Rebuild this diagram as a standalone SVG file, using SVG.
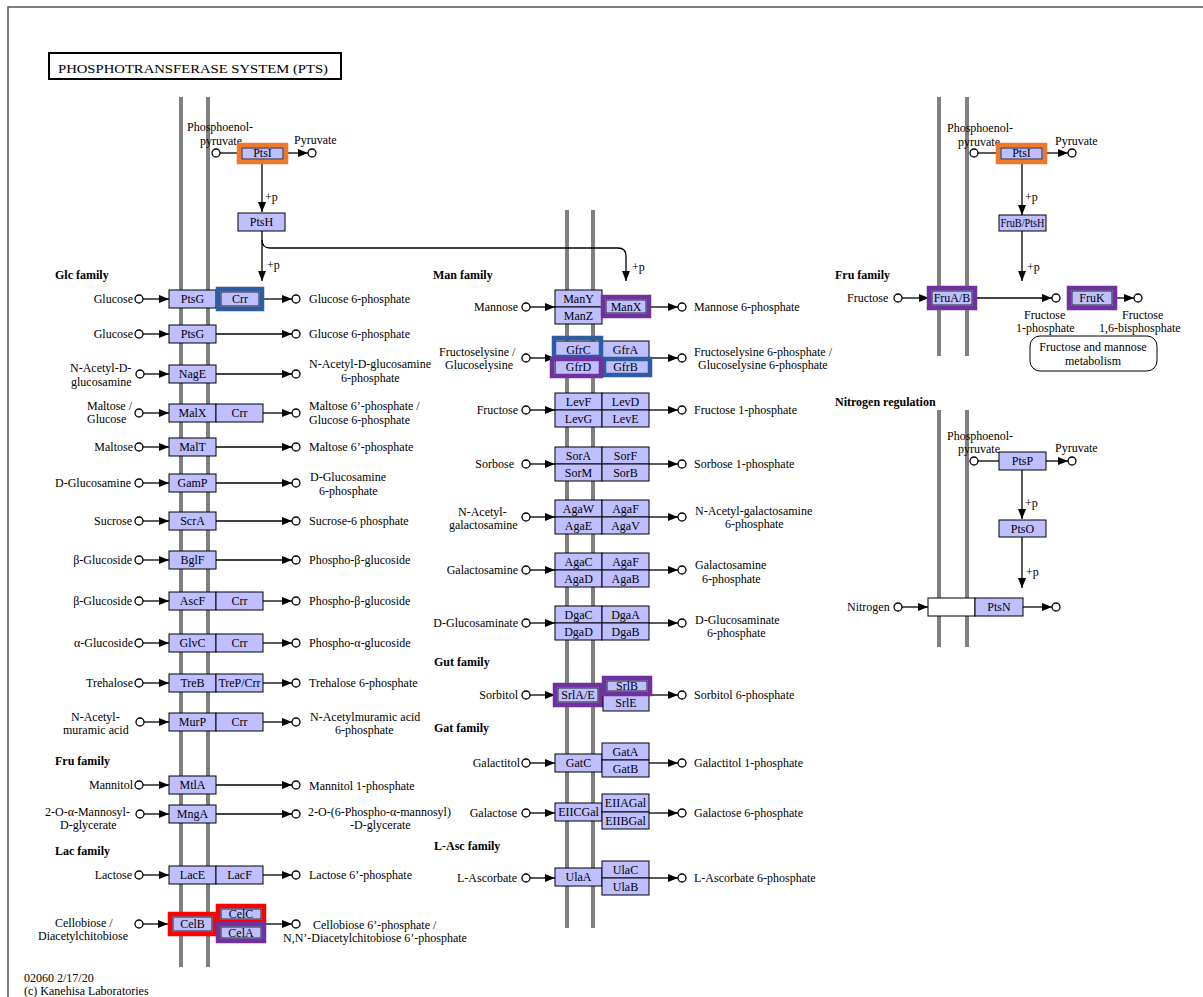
<svg xmlns="http://www.w3.org/2000/svg" width="1203" height="997" viewBox="0 0 1203 997">
<style>
.bg{fill:#fff}
.frame{fill:none;stroke:#555;stroke-width:1.5}
.b{fill:#BFBFFF;stroke:#000;stroke-width:1}
.w{fill:#fff;stroke:#000;stroke-width:1}
.hl{fill:none;stroke-width:4.5}
.hO{stroke:#F07828}
.hB{stroke:#2D5CA0}
.hP{stroke:#7030A0}
.hR{stroke:#FF0000}
.in{fill:none;stroke:#000;stroke-width:0.8}
.t{font-family:"Liberation Serif","Times New Roman",serif;font-size:12px;fill:#000}
.m{text-anchor:middle}
.e{text-anchor:end}
.f{font-weight:bold}
.mem{stroke:#808080;stroke-width:4}
.ln{stroke:#000;stroke-width:1.3;fill:none}
.a{marker-end:url(#ah)}
.c{fill:#fff;stroke:#000;stroke-width:1.3}
.map{fill:#fff;stroke:#000;stroke-width:1}
</style>
<defs>
<marker id="ah" viewBox="0 0 10 8" refX="10" refY="4" markerWidth="10" markerHeight="8" markerUnits="userSpaceOnUse" orient="auto"><path d="M0,0L10,4L0,8z" fill="#000"/></marker>
</defs>
<rect class="bg" x="0" y="0" width="1203" height="997"/>
<rect class="frame" x="8" y="7" width="1300" height="1100"/>
<g id="title">
<rect x="49" y="53" width="292" height="26" fill="#fff" stroke="#000" stroke-width="2"/>
<text class="t" x="58" y="72.5" font-size="17" textLength="270" lengthAdjust="spacingAndGlyphs">PHOSPHOTRANSFERASE SYSTEM (PTS)</text>
</g>
<g id="membranes">
<line class="mem" x1="181" y1="97" x2="181" y2="967"/>
<line class="mem" x1="208" y1="97" x2="208" y2="967"/>
<line class="mem" x1="567" y1="210" x2="567" y2="928"/>
<line class="mem" x1="593" y1="210" x2="593" y2="928"/>
<line class="mem" x1="939" y1="97" x2="939" y2="356"/>
<line class="mem" x1="967" y1="97" x2="967" y2="356"/>
<line class="mem" x1="939" y1="410" x2="939" y2="647"/>
<line class="mem" x1="967" y1="410" x2="967" y2="647"/>
</g>
<g id="labels">
<text class="t f" x="55" y="279">Glc family</text>
<text class="t f" x="55" y="765">Fru family</text>
<text class="t f" x="55" y="855">Lac family</text>
<text class="t f" x="433" y="279">Man family</text>
<text class="t f" x="434" y="666">Gut family</text>
<text class="t f" x="434" y="732">Gat family</text>
<text class="t f" x="434" y="850">L-Asc family</text>
<text class="t f" x="835" y="279">Fru family</text>
<text class="t f" x="835" y="406">Nitrogen regulation</text>
<text class="t"><tspan x="24" y="981.6">02060 2/17/20</tspan><tspan x="24" y="995">(c) Kanehisa Laboratories</tspan></text>
<text class="t" x="265" y="201">+p</text>
<text class="t" x="267" y="269">+p</text>
<text class="t" x="632" y="271">+p</text>
<text class="t" x="1025" y="201">+p</text>
<text class="t" x="1027" y="271">+p</text>
<text class="t" x="1025" y="507">+p</text>
<text class="t" x="1026" y="576">+p</text>
</g>
<g id="compounds">
<text class="t"><tspan x="187" y="131.3">Phosphoenol-</tspan><tspan x="200" y="144.7">pyruvate</tspan></text>
<text class="t" x="294" y="144">Pyruvate</text>
<text class="t e" x="133" y="303">Glucose</text><text class="t" x="309" y="303">Glucose 6-phosphate</text>
<text class="t e" x="133" y="338">Glucose</text><text class="t" x="309" y="338">Glucose 6-phosphate</text>
<text class="t"><tspan x="70" y="372.3">N-Acetyl-D-</tspan><tspan x="71" y="385.7">glucosamine</tspan></text>
<text class="t"><tspan x="309" y="368.3">N-Acetyl-D-glucosamine</tspan><tspan x="341" y="381.7">6-phosphate</tspan></text>
<text class="t"><tspan x="87" y="409.8">Maltose /</tspan><tspan x="87" y="423.2">Glucose</tspan></text>
<text class="t"><tspan x="309" y="410.3">Maltose 6’-phosphate /</tspan><tspan x="309" y="423.7">Glucose 6-phosphate</tspan></text>
<text class="t e" x="133" y="451">Maltose</text><text class="t" x="309" y="451">Maltose 6’-phosphate</text>
<text class="t e" x="131" y="487">D-Glucosamine</text>
<text class="t"><tspan x="310" y="481.3">D-Glucosamine</tspan><tspan x="319" y="494.7">6-phosphate</tspan></text>
<text class="t e" x="132" y="525">Sucrose</text><text class="t" x="309" y="525">Sucrose-6 phosphate</text>
<text class="t e" x="132" y="564">β-Glucoside</text><text class="t" x="309" y="564">Phospho-β-glucoside</text>
<text class="t e" x="132" y="605">β-Glucoside</text><text class="t" x="309" y="605">Phospho-β-glucoside</text>
<text class="t e" x="133" y="647">α-Glucoside</text><text class="t" x="309" y="647">Phospho-α-glucoside</text>
<text class="t e" x="133" y="687">Trehalose</text><text class="t" x="309" y="687">Trehalose 6-phosphate</text>
<text class="t"><tspan x="71" y="720.8">N-Acetyl-</tspan><tspan x="63" y="734.2">muramic acid</tspan></text>
<text class="t"><tspan x="310" y="720.8">N-Acetylmuramic acid</tspan><tspan x="335" y="734.2">6-phosphate</tspan></text>
<text class="t e" x="133" y="789">Mannitol</text><text class="t" x="309" y="790">Mannitol 1-phosphate</text>
<text class="t"><tspan x="45" y="815.8">2-O-α-Mannosyl-</tspan><tspan x="60" y="829.2">D-glycerate</tspan></text>
<text class="t"><tspan x="308" y="815.8">2-O-(6-Phospho-α-mannosyl)</tspan><tspan x="350" y="829.2">-D-glycerate</tspan></text>
<text class="t e" x="132" y="879">Lactose</text><text class="t" x="309" y="879">Lactose 6’-phosphate</text>
<text class="t"><tspan x="55" y="926.8">Cellobiose /</tspan><tspan x="38" y="940.2">Diacetylchitobiose</tspan></text>
<text class="t"><tspan x="313" y="928.8">Cellobiose 6’-phosphate /</tspan><tspan x="283" y="942.2">N,N’-Diacetylchitobiose 6’-phosphate</tspan></text>
<text class="t e" x="518" y="311">Mannose</text><text class="t" x="694" y="311">Mannose 6-phosphate</text>
<text class="t"><tspan x="439" y="355.8">Fructoselysine /</tspan><tspan x="445" y="369.2">Glucoselysine</tspan></text>
<text class="t"><tspan x="694" y="355.8">Fructoselysine 6-phosphate /</tspan><tspan x="698" y="369.2">Glucoselysine 6-phosphate</tspan></text>
<text class="t e" x="518" y="414">Fructose</text><text class="t" x="694" y="414">Fructose 1-phosphate</text>
<text class="t e" x="514" y="468">Sorbose</text><text class="t" x="694" y="468">Sorbose 1-phosphate</text>
<text class="t"><tspan x="458" y="515.8">N-Acetyl-</tspan><tspan x="449" y="529.2">galactosamine</tspan></text>
<text class="t"><tspan x="695" y="514.8">N-Acetyl-galactosamine</tspan><tspan x="725" y="528.2">6-phosphate</tspan></text>
<text class="t e" x="518" y="574">Galactosamine</text>
<text class="t"><tspan x="695" y="569.3">Galactosamine</tspan><tspan x="702" y="582.7">6-phosphate</tspan></text>
<text class="t e" x="518" y="627">D-Glucosaminate</text>
<text class="t"><tspan x="695" y="623.8">D-Glucosaminate</tspan><tspan x="707" y="637.2">6-phosphate</tspan></text>
<text class="t e" x="518" y="699">Sorbitol</text><text class="t" x="694" y="699">Sorbitol 6-phosphate</text>
<text class="t e" x="520" y="767">Galactitol</text><text class="t" x="694" y="767">Galactitol 1-phosphate</text>
<text class="t e" x="517" y="817">Galactose</text><text class="t" x="694" y="817">Galactose 6-phosphate</text>
<text class="t e" x="517" y="882">L-Ascorbate</text><text class="t" x="694" y="882">L-Ascorbate 6-phosphate</text>
<text class="t"><tspan x="947" y="132.3">Phosphoenol-</tspan><tspan x="958" y="145.7">pyruvate</tspan></text>
<text class="t" x="1055" y="145">Pyruvate</text>
<text class="t" x="847" y="302">Fructose</text>
<text class="t"><tspan x="1024" y="318.8">Fructose</tspan><tspan x="1016" y="332.2">1-phosphate</tspan></text>
<text class="t"><tspan x="1122" y="318.8">Fructose</tspan><tspan x="1099" y="332.2">1,6-bisphosphate</tspan></text>
<text class="t"><tspan x="947" y="439.8">Phosphoenol-</tspan><tspan x="958" y="453.2">pyruvate</tspan></text>
<text class="t" x="1055" y="452">Pyruvate</text>
<text class="t" x="847" y="611">Nitrogen</text>
</g>
<g id="connectors">
<circle class="c" cx="216" cy="153" r="4"/><path class="ln" d="M220,153H239"/>
<path class="ln a" d="M287,153H308"/><circle class="c" cx="312" cy="153" r="4"/>
<path class="ln a" d="M262,162V212"/>
<path class="ln a" d="M262,231V281"/>
<path class="ln a" d="M262,240Q262,248 270,248H618Q626,248 626,256V281"/>
<circle class="c" cx="139" cy="299" r="4"/><path class="ln a" d="M143,299H169"/><path class="ln a" d="M264,299H292"/><circle class="c" cx="296" cy="299" r="4"/>
<circle class="c" cx="139" cy="334" r="4"/><path class="ln a" d="M143,334H169"/><path class="ln a" d="M216,334H292"/><circle class="c" cx="296" cy="334" r="4"/>
<circle class="c" cx="140" cy="374" r="4"/><path class="ln a" d="M144,374H169"/><path class="ln a" d="M216,374H292"/><circle class="c" cx="296" cy="374" r="4"/>
<circle class="c" cx="139" cy="413" r="4"/><path class="ln a" d="M143,413H169"/><path class="ln a" d="M263,413H292"/><circle class="c" cx="296" cy="413" r="4"/>
<circle class="c" cx="139" cy="447" r="4"/><path class="ln a" d="M143,447H169"/><path class="ln a" d="M216,447H292"/><circle class="c" cx="296" cy="447" r="4"/>
<circle class="c" cx="139" cy="483" r="4"/><path class="ln a" d="M143,483H169"/><path class="ln a" d="M216,483H292"/><circle class="c" cx="296" cy="483" r="4"/>
<circle class="c" cx="139" cy="521" r="4"/><path class="ln a" d="M143,521H169"/><path class="ln a" d="M216,521H292"/><circle class="c" cx="296" cy="521" r="4"/>
<circle class="c" cx="139" cy="560" r="4"/><path class="ln a" d="M143,560H169"/><path class="ln a" d="M216,560H292"/><circle class="c" cx="296" cy="560" r="4"/>
<circle class="c" cx="139" cy="601" r="4"/><path class="ln a" d="M143,601H169"/><path class="ln a" d="M263,601H292"/><circle class="c" cx="296" cy="601" r="4"/>
<circle class="c" cx="139" cy="643" r="4"/><path class="ln a" d="M143,643H169"/><path class="ln a" d="M263,643H292"/><circle class="c" cx="296" cy="643" r="4"/>
<circle class="c" cx="139" cy="683" r="4"/><path class="ln a" d="M143,683H169"/><path class="ln a" d="M263,683H292"/><circle class="c" cx="296" cy="683" r="4"/>
<circle class="c" cx="140" cy="722" r="4"/><path class="ln a" d="M144,722H169"/><path class="ln a" d="M263,722H292"/><circle class="c" cx="296" cy="722" r="4"/>
<circle class="c" cx="139" cy="785" r="4"/><path class="ln a" d="M143,785H169"/><path class="ln a" d="M216,785H292"/><circle class="c" cx="296" cy="785" r="4"/>
<circle class="c" cx="140" cy="814" r="4"/><path class="ln a" d="M144,814H169"/><path class="ln a" d="M216,814H292"/><circle class="c" cx="296" cy="814" r="4"/>
<circle class="c" cx="139" cy="875" r="4"/><path class="ln a" d="M143,875H169"/><path class="ln a" d="M263,875H292"/><circle class="c" cx="296" cy="875" r="4"/>
<circle class="c" cx="139" cy="924" r="4"/><path class="ln a" d="M143,924H168"/><path class="ln a" d="M266,924H292"/><circle class="c" cx="296" cy="924" r="4"/>
<circle class="c" cx="526" cy="307" r="4"/><path class="ln a" d="M530,307H555"/><path class="ln a" d="M649,307H678"/><circle class="c" cx="682" cy="307" r="4"/>
<circle class="c" cx="526" cy="358" r="4"/><path class="ln a" d="M530,358H555"/><path class="ln a" d="M649,358H678"/><circle class="c" cx="682" cy="358" r="4"/>
<circle class="c" cx="526" cy="410" r="4"/><path class="ln a" d="M530,410H555"/><path class="ln a" d="M649,410H678"/><circle class="c" cx="682" cy="410" r="4"/>
<circle class="c" cx="526" cy="464" r="4"/><path class="ln a" d="M530,464H555"/><path class="ln a" d="M649,464H678"/><circle class="c" cx="682" cy="464" r="4"/>
<circle class="c" cx="526" cy="517" r="4"/><path class="ln a" d="M530,517H555"/><path class="ln a" d="M649,517H678"/><circle class="c" cx="682" cy="517" r="4"/>
<circle class="c" cx="526" cy="570" r="4"/><path class="ln a" d="M530,570H555"/><path class="ln a" d="M649,570H678"/><circle class="c" cx="682" cy="570" r="4"/>
<circle class="c" cx="526" cy="623" r="4"/><path class="ln a" d="M530,623H555"/><path class="ln a" d="M649,623H678"/><circle class="c" cx="682" cy="623" r="4"/>
<circle class="c" cx="526" cy="695" r="4"/><path class="ln a" d="M530,695H555"/><path class="ln a" d="M649,695H678"/><circle class="c" cx="682" cy="695" r="4"/>
<circle class="c" cx="526" cy="763" r="4"/><path class="ln a" d="M530,763H555"/><path class="ln a" d="M649,763H678"/><circle class="c" cx="682" cy="763" r="4"/>
<circle class="c" cx="526" cy="813" r="4"/><path class="ln a" d="M530,813H555"/><path class="ln a" d="M649,813H678"/><circle class="c" cx="682" cy="813" r="4"/>
<circle class="c" cx="526" cy="878" r="4"/><path class="ln a" d="M530,878H555"/><path class="ln a" d="M649,878H678"/><circle class="c" cx="682" cy="878" r="4"/>
<circle class="c" cx="974" cy="153" r="4"/><path class="ln" d="M978,153H998"/>
<path class="ln a" d="M1045,153H1068"/><circle class="c" cx="1072" cy="153" r="4"/>
<path class="ln a" d="M1022,162V215"/>
<path class="ln a" d="M1022,231V281"/>
<circle class="c" cx="898" cy="298" r="4"/><path class="ln a" d="M902,298H929"/>
<path class="ln a" d="M975,298H1052"/><circle class="c" cx="1056" cy="298" r="4"/>
<path class="ln a" d="M1115,298H1134"/><circle class="c" cx="1138" cy="298" r="4"/>
<circle class="c" cx="974" cy="461" r="4"/><path class="ln" d="M978,461H999"/>
<path class="ln a" d="M1046,461H1068"/><circle class="c" cx="1072" cy="461" r="4"/>
<path class="ln a" d="M1022,470V519"/>
<path class="ln a" d="M1022,537V588"/>
<circle class="c" cx="898" cy="607" r="4"/><path class="ln a" d="M902,607H928"/>
<path class="ln a" d="M1023,607H1052"/><circle class="c" cx="1056" cy="607" r="4"/>
</g>
<g id="n-PtsI-L"><rect class="b" x="239" y="145" width="47" height="17"/><rect class="hl hO" x="239" y="145" width="47" height="17"/><rect class="in" x="242" y="148" width="41" height="11"/><text class="t m" x="262.5" y="157">PtsI</text></g>
<g id="n-PtsH"><rect class="b" x="238" y="213" width="47" height="18"/><text class="t m" x="261.5" y="226">PtsH</text></g>
<g id="n-PtsG-1"><rect class="b" x="169" y="290" width="47" height="18"/><text class="t m" x="192.5" y="303">PtsG</text></g>
<g id="n-Crr-1"><rect class="b" x="218" y="289" width="44" height="20"/><rect class="hl hB" x="218" y="289" width="44" height="20"/><rect class="in" x="221" y="292" width="38" height="14"/><text class="t m" x="240" y="303">Crr</text></g>
<g id="n-PtsG-2"><rect class="b" x="169" y="325" width="47" height="18"/><text class="t m" x="192.5" y="338">PtsG</text></g>
<g id="n-NagE"><rect class="b" x="169" y="365" width="47" height="18"/><text class="t m" x="192.5" y="378">NagE</text></g>
<g id="n-MalX"><rect class="b" x="169" y="404" width="47" height="18"/><text class="t m" x="192.5" y="417">MalX</text><rect class="b" x="216" y="404" width="47" height="18"/><text class="t m" x="239.5" y="417">Crr</text></g>
<g id="n-MalT"><rect class="b" x="169" y="438" width="47" height="18"/><text class="t m" x="192.5" y="451">MalT</text></g>
<g id="n-GamP"><rect class="b" x="169" y="474" width="47" height="18"/><text class="t m" x="192.5" y="487">GamP</text></g>
<g id="n-ScrA"><rect class="b" x="169" y="512" width="47" height="18"/><text class="t m" x="192.5" y="525">ScrA</text></g>
<g id="n-BglF"><rect class="b" x="169" y="551" width="47" height="18"/><text class="t m" x="192.5" y="564">BglF</text></g>
<g id="n-AscF"><rect class="b" x="169" y="592" width="47" height="18"/><text class="t m" x="192.5" y="605">AscF</text><rect class="b" x="216" y="592" width="47" height="18"/><text class="t m" x="239.5" y="605">Crr</text></g>
<g id="n-GlvC"><rect class="b" x="169" y="634" width="47" height="18"/><text class="t m" x="192.5" y="647">GlvC</text><rect class="b" x="216" y="634" width="47" height="18"/><text class="t m" x="239.5" y="647">Crr</text></g>
<g id="n-TreB"><rect class="b" x="169" y="674" width="47" height="18"/><text class="t m" x="192.5" y="687">TreB</text><rect class="b" x="216" y="674" width="47" height="18"/><text class="t m" x="239.5" y="687">TreP/Crr</text></g>
<g id="n-MurP"><rect class="b" x="169" y="713" width="47" height="18"/><text class="t m" x="192.5" y="726">MurP</text><rect class="b" x="216" y="713" width="47" height="18"/><text class="t m" x="239.5" y="726">Crr</text></g>
<g id="n-MtlA"><rect class="b" x="169" y="776" width="47" height="18"/><text class="t m" x="192.5" y="789">MtlA</text></g>
<g id="n-MngA"><rect class="b" x="169" y="805" width="47" height="18"/><text class="t m" x="192.5" y="818">MngA</text></g>
<g id="n-LacE"><rect class="b" x="169" y="866" width="47" height="18"/><text class="t m" x="192.5" y="879">LacE</text><rect class="b" x="216" y="866" width="47" height="18"/><text class="t m" x="239.5" y="879">LacF</text></g>
<g id="n-CelB"><rect class="b" x="170" y="914" width="45" height="20"/><rect class="hl hR" x="170" y="914" width="45" height="20"/><rect class="in" x="173" y="917" width="39" height="14"/><text class="t m" x="192.5" y="928">CelB</text></g>
<g id="n-CelC"><rect class="b" x="218" y="906" width="46" height="16"/><rect class="hl hR" x="218" y="906" width="46" height="16"/><rect class="in" x="221" y="909" width="40" height="10"/><text class="t m" x="241" y="918">CelC</text></g>
<g id="n-CelA"><rect class="b" x="218" y="924" width="46" height="17"/><rect class="hl hP" x="218" y="924" width="46" height="17"/><rect class="in" x="221" y="927" width="40" height="11"/><text class="t m" x="241" y="937">CelA</text></g>
<g id="n-ManYZ"><rect class="b" x="555" y="290" width="47" height="17"/><text class="t m" x="578.5" y="303">ManY</text><rect class="b" x="555" y="307" width="47" height="17"/><text class="t m" x="578.5" y="320">ManZ</text></g>
<g id="n-ManX"><rect class="b" x="603" y="297" width="46" height="19"/><rect class="hl hP" x="603" y="297" width="46" height="19"/><rect class="in" x="606" y="300" width="40" height="13"/><text class="t m" x="626" y="311">ManX</text></g>
<g id="n-Gfr">
<rect class="b" x="555" y="341" width="47" height="17"/><text class="t m" x="578.5" y="354">GfrC</text>
<rect class="b" x="602" y="341" width="47" height="17"/><text class="t m" x="625.5" y="354">GfrA</text>
<rect class="b" x="555" y="358" width="47" height="17"/><text class="t m" x="578.5" y="371">GfrD</text>
<rect class="b" x="602" y="358" width="47" height="17"/><text class="t m" x="625.5" y="371">GfrB</text>
<rect class="hl hB" x="554" y="338" width="47" height="19"/>
<rect class="hl hB" x="604" y="359" width="46" height="16"/>
<rect class="hl hP" x="552" y="359" width="49" height="17"/>
</g>
<g id="n-Lev">
<rect class="b" x="555" y="393" width="47" height="17"/><text class="t m" x="578.5" y="406">LevF</text>
<rect class="b" x="602" y="393" width="47" height="17"/><text class="t m" x="625.5" y="406">LevD</text>
<rect class="b" x="555" y="410" width="47" height="17"/><text class="t m" x="578.5" y="423">LevG</text>
<rect class="b" x="602" y="410" width="47" height="17"/><text class="t m" x="625.5" y="423">LevE</text>
</g>
<g id="n-Sor">
<rect class="b" x="555" y="447" width="47" height="17"/><text class="t m" x="578.5" y="460">SorA</text>
<rect class="b" x="602" y="447" width="47" height="17"/><text class="t m" x="625.5" y="460">SorF</text>
<rect class="b" x="555" y="464" width="47" height="17"/><text class="t m" x="578.5" y="477">SorM</text>
<rect class="b" x="602" y="464" width="47" height="17"/><text class="t m" x="625.5" y="477">SorB</text>
</g>
<g id="n-AgaW">
<rect class="b" x="555" y="500" width="47" height="17"/><text class="t m" x="578.5" y="513">AgaW</text>
<rect class="b" x="602" y="500" width="47" height="17"/><text class="t m" x="625.5" y="513">AgaF</text>
<rect class="b" x="555" y="517" width="47" height="17"/><text class="t m" x="578.5" y="530">AgaE</text>
<rect class="b" x="602" y="517" width="47" height="17"/><text class="t m" x="625.5" y="530">AgaV</text>
</g>
<g id="n-AgaC">
<rect class="b" x="555" y="553" width="47" height="17"/><text class="t m" x="578.5" y="566">AgaC</text>
<rect class="b" x="602" y="553" width="47" height="17"/><text class="t m" x="625.5" y="566">AgaF</text>
<rect class="b" x="555" y="570" width="47" height="17"/><text class="t m" x="578.5" y="583">AgaD</text>
<rect class="b" x="602" y="570" width="47" height="17"/><text class="t m" x="625.5" y="583">AgaB</text>
</g>
<g id="n-Dga">
<rect class="b" x="555" y="606" width="47" height="17"/><text class="t m" x="578.5" y="619">DgaC</text>
<rect class="b" x="602" y="606" width="47" height="17"/><text class="t m" x="625.5" y="619">DgaA</text>
<rect class="b" x="555" y="623" width="47" height="17"/><text class="t m" x="578.5" y="636">DgaD</text>
<rect class="b" x="602" y="623" width="47" height="17"/><text class="t m" x="625.5" y="636">DgaB</text>
</g>
<g id="n-Srl">
<rect class="b" x="555" y="685" width="46" height="20"/><rect class="hl hP" x="555" y="685" width="46" height="20"/><rect class="in" x="558" y="688" width="40" height="14"/><text class="t m" x="578" y="699">SrlA/E</text>
<rect class="b" x="603" y="695" width="46" height="16"/><text class="t m" x="626" y="707">SrlE</text>
<rect class="b" x="604" y="678" width="46" height="16"/><rect class="hl hP" x="604" y="678" width="46" height="16"/><rect class="in" x="607" y="681" width="40" height="10"/><text class="t m" x="627" y="690">SrlB</text>
</g>
<g id="n-Gat">
<rect class="b" x="555" y="754" width="47" height="18"/><text class="t m" x="578.5" y="767">GatC</text>
<rect class="b" x="602" y="743" width="47" height="17"/><text class="t m" x="625.5" y="756">GatA</text>
<rect class="b" x="602" y="760" width="47" height="17"/><text class="t m" x="625.5" y="773">GatB</text>
</g>
<g id="n-Gal">
<rect class="b" x="555" y="803" width="47" height="18"/><text class="t m" x="578.5" y="816">EIICGal</text>
<rect class="b" x="602" y="794" width="47" height="18"/><text class="t m" x="625.5" y="807">EIIAGal</text>
<rect class="b" x="602" y="812" width="47" height="17"/><text class="t m" x="625.5" y="825">EIIBGal</text>
</g>
<g id="n-Ula">
<rect class="b" x="555" y="868" width="47" height="18"/><text class="t m" x="578.5" y="881">UlaA</text>
<rect class="b" x="602" y="861" width="47" height="17"/><text class="t m" x="625.5" y="874">UlaC</text>
<rect class="b" x="602" y="878" width="47" height="17"/><text class="t m" x="625.5" y="891">UlaB</text>
</g>
<g id="n-PtsI-R"><rect class="b" x="998" y="145" width="47" height="17"/><rect class="hl hO" x="998" y="145" width="47" height="17"/><rect class="in" x="1001" y="148" width="41" height="11"/><text class="t m" x="1021.5" y="157">PtsI</text></g>
<g id="n-FruBPtsH"><rect class="b" x="999" y="215" width="47" height="16"/><text class="t m" x="1022.5" y="227" font-size="11" textLength="44" lengthAdjust="spacingAndGlyphs">FruB/PtsH</text></g>
<g id="n-FruAB"><rect class="b" x="929" y="288" width="46" height="20"/><rect class="hl hP" x="929" y="288" width="46" height="20"/><rect class="in" x="932" y="291" width="40" height="14"/><text class="t m" x="952" y="302">FruA/B</text></g>
<g id="n-FruK"><rect class="b" x="1069" y="288" width="46" height="20"/><rect class="hl hP" x="1069" y="288" width="46" height="20"/><rect class="in" x="1072" y="291" width="40" height="14"/><text class="t m" x="1092" y="302">FruK</text></g>
<g id="n-map-fru"><rect class="map" x="1030" y="336" width="127" height="35" rx="10"/><text class="t m"><tspan x="1093" y="351.3">Fructose and mannose</tspan><tspan x="1093" y="364.7">metabolism</tspan></text></g>
<g id="n-PtsP"><rect class="b" x="999" y="452" width="47" height="18"/><text class="t m" x="1022.5" y="465">PtsP</text></g>
<g id="n-PtsO"><rect class="b" x="999" y="520" width="47" height="17"/><text class="t m" x="1022.5" y="533">PtsO</text></g>
<g id="n-PtsN"><rect class="w" x="928" y="598" width="47" height="18"/><rect class="b" x="975" y="598" width="48" height="18"/><text class="t m" x="999" y="611">PtsN</text></g>
</svg>
